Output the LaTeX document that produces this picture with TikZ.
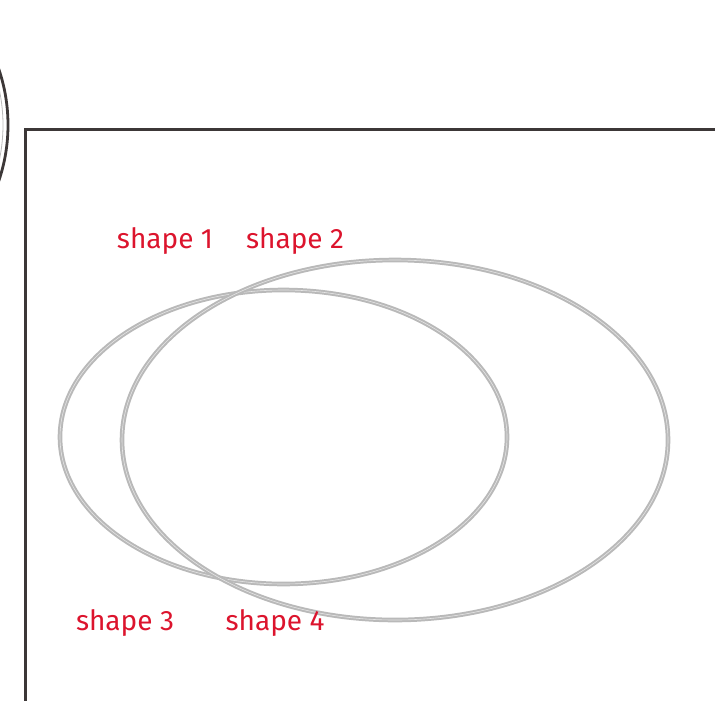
\documentclass[tikz,border=0pt]{standalone}
\usepackage{fontspec}
\setmainfont{Fira Sans}
\definecolor{labelred}{RGB}{220,20,45}
\definecolor{framegray}{RGB}{60,55,55}
\definecolor{ringgray}{RGB}{185,185,185}
\usetikzlibrary{positioning}

\begin{document}
\begin{tikzpicture}[x=0.5pt, y=-0.5pt]
            % Canvas
            \useasboundingbox (0,0) rectangle (715,700);
            \clip (0,0) rectangle (715,700);

            % Round frame at the left edge
            \draw[line width=1.4pt, framegray] (-165,125) circle (173);
            \draw[line width=0.4pt, ringgray] (-165,125) circle (168);

            % Frame
            \draw[line width=1.5pt, framegray] (25,720) -- (25,130) -- (730,130);

            % Ellipses
            \draw[line width=1pt, ringgray, double=white!90!black, double distance=0.3pt] (283.5,437) ellipse [x radius=223.5, y radius=147];
            \draw[line width=1pt, ringgray, double=white!90!black, double distance=0.3pt] (395,440) ellipse [x radius=273, y radius=180];

            % Labels
            \node[labelred, font=\fontsize{14}{16}\selectfont] (s1) at (165,241) {shape 1};
            \node[labelred, font=\fontsize{14}{16}\selectfont] (s2) at (295,241) {shape 2};
            \node[labelred, font=\fontsize{14}{16}\selectfont] (s3) at (125,623) {shape 3};
            \node[labelred, font=\fontsize{14}{16}\selectfont] (s4) at (275,623) {shape 4};
        \end{tikzpicture}
\end{document}
